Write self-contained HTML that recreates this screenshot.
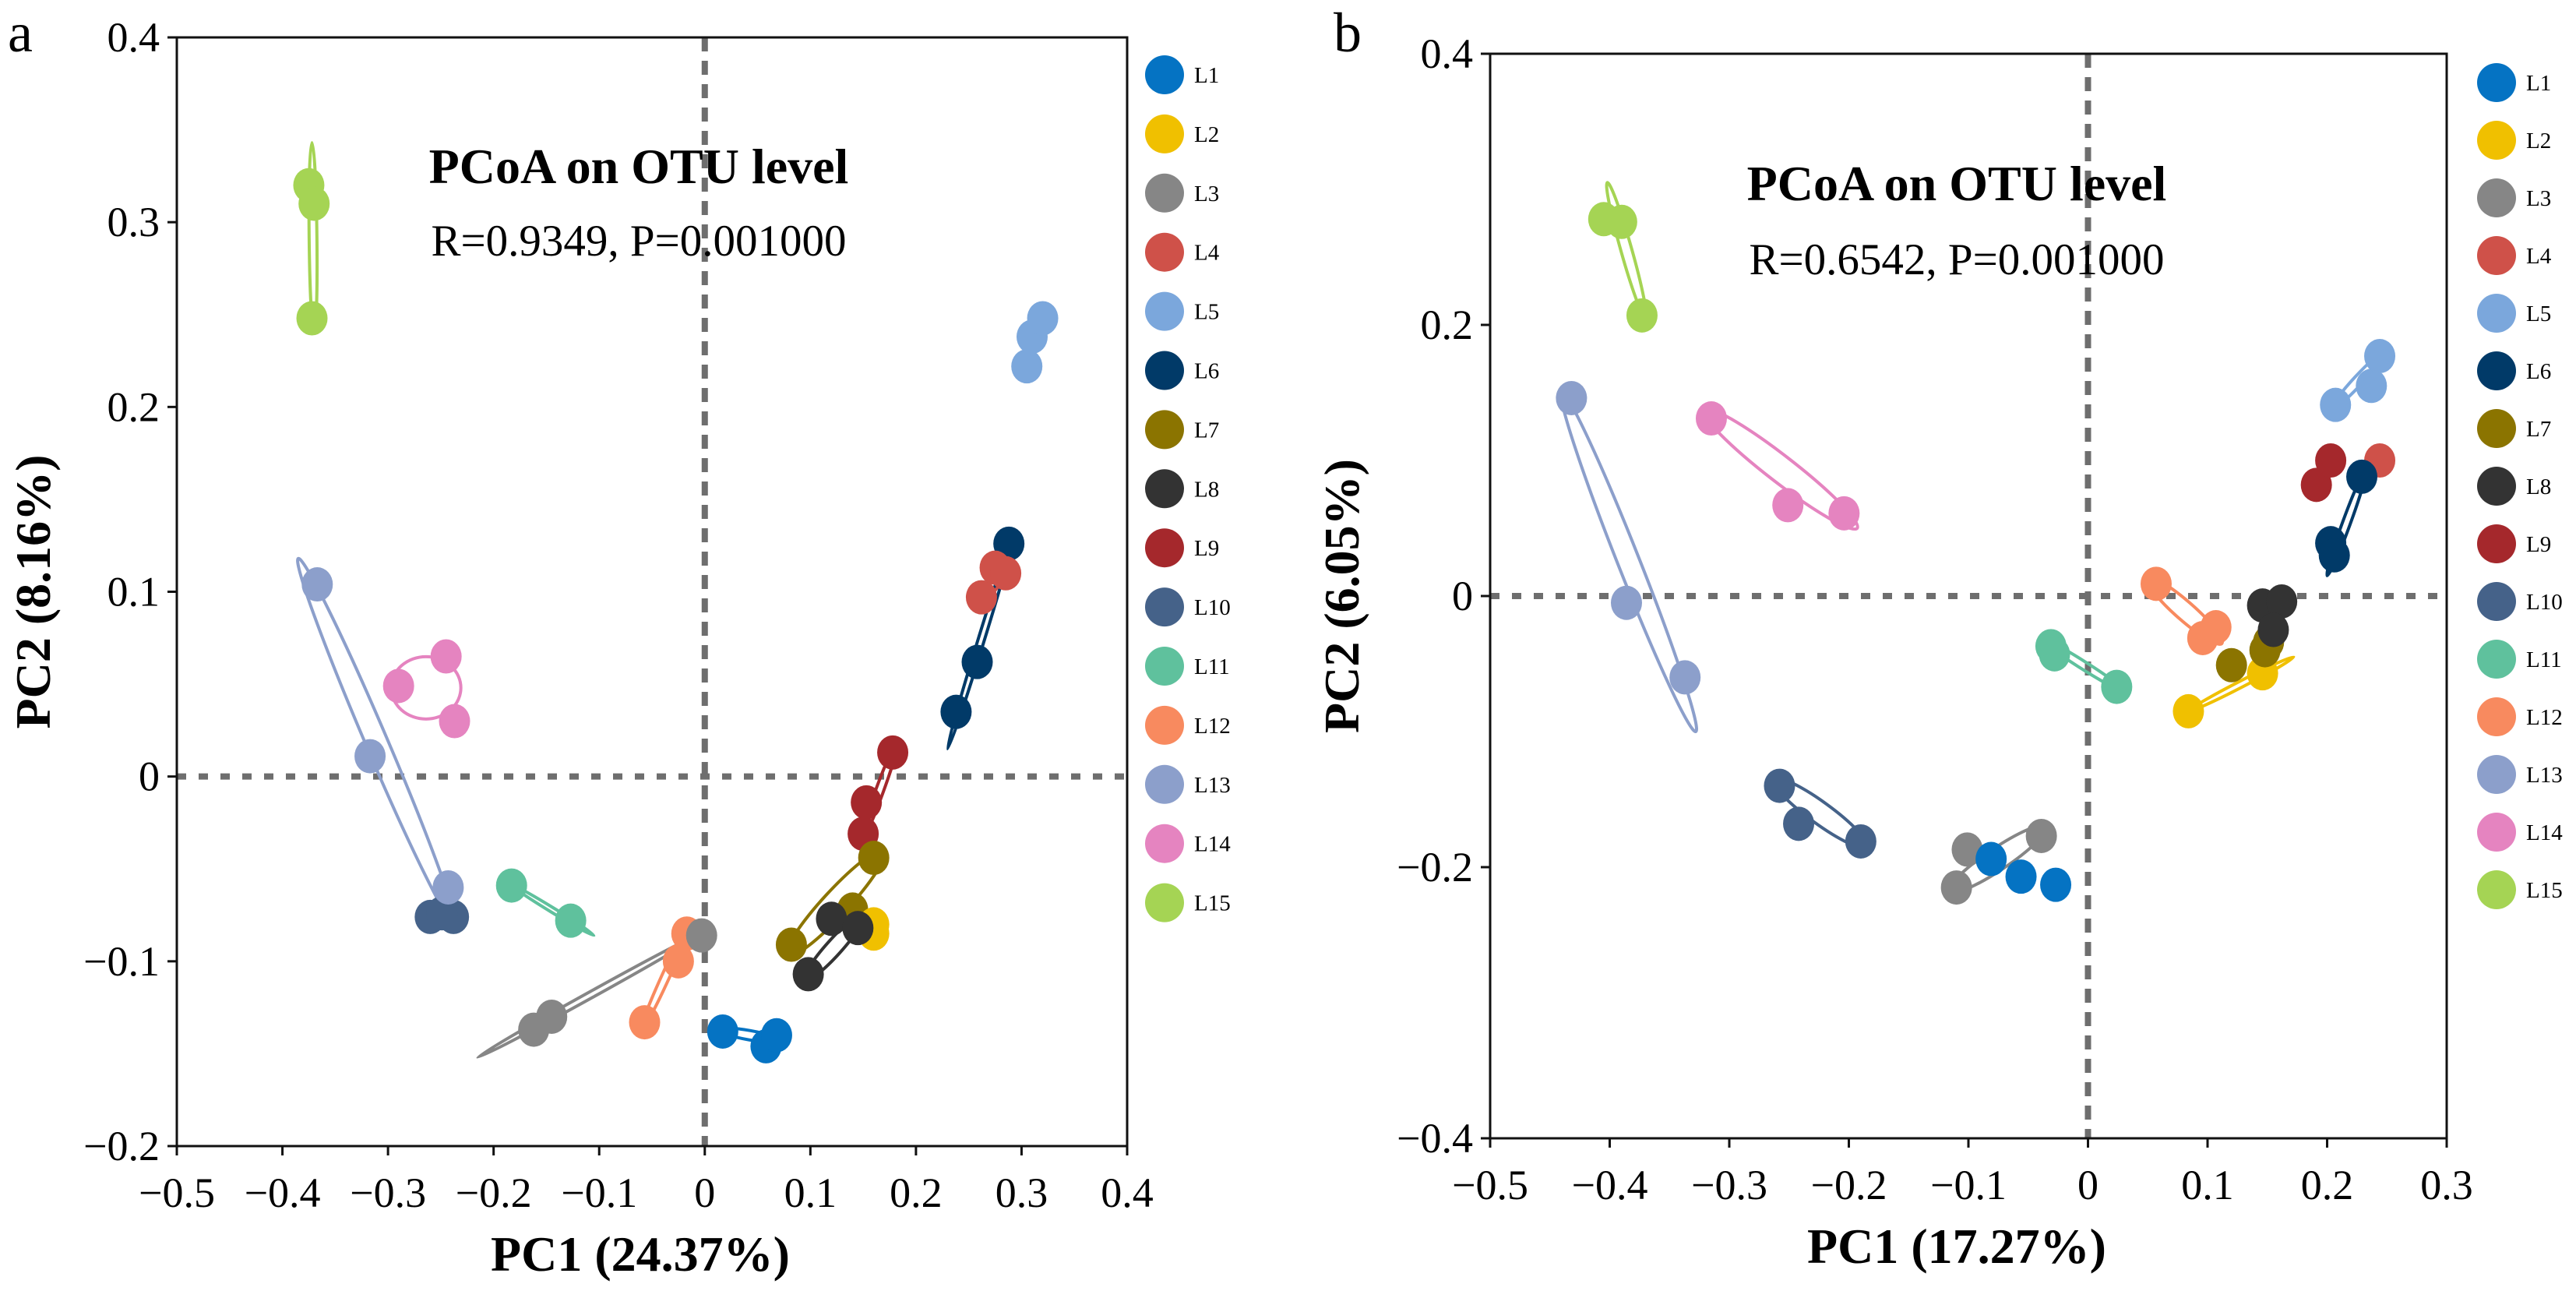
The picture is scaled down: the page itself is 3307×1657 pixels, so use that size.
<!DOCTYPE html>
<html><head><meta charset="utf-8"><style>
html,body{margin:0;padding:0;background:#fff;}
svg{display:block;font-family:"Liberation Serif",serif;}
</style></head><body>
<svg id="s" width="3307" height="1657" xmlns="http://www.w3.org/2000/svg"></svg>
<script>
const C={L1:"#0573c3",L2:"#f0c000",L3:"#868686",L4:"#cf5149",L5:"#7ba7dc",L6:"#013a68",L7:"#8b7400",L8:"#333333",L9:"#a5282c",L10:"#456289",L11:"#5fc19d",L12:"#f88a5f",L13:"#8c9fcb",L14:"#e584c0",L15:"#a5d454"};
const A={L:227,R:1447,T:48,B:1471,x0:-0.5,x1:0.4,y0:-0.2,y1:0.4,xt:[-0.5,-0.4,-0.3,-0.2,-0.1,0,0.1,0.2,0.3,0.4],yt:[-0.2,-0.1,0,0.1,0.2,0.3,0.4],
legX:1495,legY:96,legS:75.9,
title:[820,235],rt:[820,328],r:"R=0.9349, P=0.001000",xl:"PC1 (24.37%)",yl:"PC2 (8.16%)",ylx:42,letter:["a",10,66],
pts:{L15:[[-0.375,0.32],[-0.37,0.31],[-0.372,0.248]],L5:[[0.305,0.222],[0.31,0.238],[0.32,0.248]],L6:[[0.288,0.126],[0.258,0.062],[0.238,0.035]],L4:[[0.262,0.097],[0.275,0.113],[0.285,0.11]],L9:[[0.178,0.013],[0.153,-0.014],[0.15,-0.031]],L7:[[0.16,-0.044],[0.14,-0.072],[0.082,-0.091]],L2:[[0.16,-0.08],[0.16,-0.085]],L8:[[0.12,-0.077],[0.145,-0.082],[0.098,-0.107]],L1:[[0.017,-0.138],[0.058,-0.146],[0.068,-0.14]],L12:[[-0.017,-0.085],[-0.025,-0.1],[-0.057,-0.133]],L3:[[-0.162,-0.137],[-0.145,-0.13],[-0.003,-0.086]],L11:[[-0.183,-0.059],[-0.127,-0.078]],L10:[[-0.26,-0.076],[-0.238,-0.076],[-0.249,-0.074]],L13:[[-0.367,0.104],[-0.317,0.011],[-0.243,-0.06]],L14:[[-0.29,0.049],[-0.245,0.065],[-0.237,0.03]]},
ell:{L15:[-0.372,0.343,-0.37,0.24,5],L13:[-0.385,0.118,-0.237,-0.08,14],L14:[-0.297,0.048,-0.231,0.048,40],L3:[-0.215,-0.152,0.0,-0.084,4],L11:[-0.185,-0.058,-0.105,-0.086,3],L7:[0.078,-0.097,0.17,-0.04,16],L8:[0.095,-0.11,0.15,-0.075,10],L9:[0.148,-0.035,0.182,0.018,5],L6:[0.23,0.015,0.292,0.13,4],L4:[0.258,0.093,0.29,0.115,6],L12:[-0.06,-0.137,-0.013,-0.078,5],L1:[0.013,-0.137,0.072,-0.143,6]}};
const B={L:1913,R:3141,T:69,B:1461,x0:-0.5,x1:0.3,y0:-0.4,y1:0.4,xt:[-0.5,-0.4,-0.3,-0.2,-0.1,0,0.1,0.2,0.3],yt:[-0.4,-0.2,0,0.2,0.4],
legX:3205,legY:106,legS:74,
title:[2512,257],rt:[2512,352],r:"R=0.6542, P=0.001000",xl:"PC1 (17.27%)",yl:"PC2 (6.05%)",ylx:1722,letter:["b",1712,66],
pts:{L15:[[-0.405,0.278],[-0.39,0.276],[-0.373,0.207]],L13:[[-0.432,0.146],[-0.386,-0.005],[-0.337,-0.06]],L14:[[-0.315,0.131],[-0.251,0.067],[-0.204,0.061]],L10:[[-0.258,-0.14],[-0.242,-0.168],[-0.19,-0.181]],L3:[[-0.101,-0.187],[-0.11,-0.215],[-0.039,-0.177]],L1:[[-0.081,-0.194],[-0.056,-0.207],[-0.027,-0.213]],L11:[[-0.031,-0.037],[-0.028,-0.043],[0.024,-0.067]],L12:[[0.057,0.009],[0.096,-0.031],[0.107,-0.023]],L2:[[0.084,-0.085],[0.146,-0.057]],L7:[[0.12,-0.051],[0.148,-0.04],[0.151,-0.034]],L8:[[0.146,-0.007],[0.162,-0.004],[0.155,-0.025]],L9:[[0.191,0.082],[0.203,0.1]],L4:[[0.244,0.1]],L6:[[0.229,0.088],[0.203,0.039],[0.206,0.03]],L5:[[0.207,0.141],[0.237,0.155],[0.244,0.177]]},
ell:{L15:[-0.402,0.305,-0.37,0.205,7],L13:[-0.44,0.15,-0.328,-0.1,14],L14:[-0.322,0.138,-0.193,0.05,17],L10:[-0.263,-0.135,-0.185,-0.185,14],L3:[-0.116,-0.218,-0.035,-0.17,14],L11:[-0.038,-0.032,0.03,-0.07,5],L12:[0.05,0.013,0.112,-0.035,12],L2:[0.084,-0.085,0.172,-0.045,4],L6:[0.2,0.015,0.232,0.092,5],L5:[0.204,0.138,0.248,0.18,6]}};
const s=document.getElementById('s');let h='';
const f=v=>v<0?'\u2212'+(-v):''+v;
function draw(P){
 const sx=v=>P.L+(v-P.x0)/(P.x1-P.x0)*(P.R-P.L), sy=v=>P.B-(v-P.y0)/(P.y1-P.y0)*(P.B-P.T);
 h+=`<line x1="${P.L}" y1="${sy(0)}" x2="${P.R}" y2="${sy(0)}" stroke="#6e6e6e" stroke-width="8" stroke-dasharray="12 16"/>`;
 h+=`<line x1="${sx(0)}" y1="${P.T}" x2="${sx(0)}" y2="${P.B}" stroke="#6e6e6e" stroke-width="8" stroke-dasharray="18 12"/>`;
 for(const k in P.ell){const [x1,y1,x2,y2,w]=P.ell[k];const a1=sx(x1),b1=sy(y1),a2=sx(x2),b2=sy(y2);
  const cx=(a1+a2)/2,cy=(b1+b2)/2,ra=Math.hypot(a2-a1,b2-b1)/2,deg=Math.atan2(b2-b1,a2-a1)*180/Math.PI;
  h+=`<ellipse cx="${cx}" cy="${cy}" rx="${ra}" ry="${w}" transform="rotate(${deg} ${cx} ${cy})" fill="none" stroke="${C[k]}" stroke-width="4"/>`;}
 for(const k in P.pts){for(const q of P.pts[k])h+=`<ellipse cx="${sx(q[0])}" cy="${sy(q[1])}" rx="20" ry="22" fill="${C[k]}"/>`;}
 h+=`<rect x="${P.L}" y="${P.T}" width="${P.R-P.L}" height="${P.B-P.T}" fill="none" stroke="#111" stroke-width="3"/>`;
 for(const v of P.xt){const x=sx(v);h+=`<line x1="${x}" y1="${P.B}" x2="${x}" y2="${P.B+12}" stroke="#111" stroke-width="3"/><text x="${x}" y="${P.B+78}" font-size="54" text-anchor="middle">${f(v)}</text>`;}
 for(const v of P.yt){const y=sy(v);h+=`<line x1="${P.L-12}" y1="${y}" x2="${P.L}" y2="${y}" stroke="#111" stroke-width="3"/><text x="${P.L-22}" y="${y+18}" font-size="54" text-anchor="end">${f(v)}</text>`;}
 const mx=(P.L+P.R)/2,my=(P.T+P.B)/2;
 h+=`<text x="${mx-15}" y="${P.B+160}" font-size="64" font-weight="bold" text-anchor="middle">${P.xl}</text>`;
 h+=`<text transform="translate(${P.ylx+22} ${my}) rotate(-90)" font-size="64" font-weight="bold" text-anchor="middle">${P.yl}</text>`;
 h+=`<text x="${P.title[0]}" y="${P.title[1]}" font-size="64" font-weight="bold" text-anchor="middle">PCoA on OTU level</text>`;
 h+=`<text x="${P.rt[0]}" y="${P.rt[1]}" font-size="57" text-anchor="middle">${P.r}</text>`;
 h+=`<text x="${P.letter[1]}" y="${P.letter[2]}" font-size="72">${P.letter[0]}</text>`;
 let i=0;for(const k in C){const y=P.legY+i*P.legS;h+=`<circle cx="${P.legX}" cy="${y}" r="25" fill="${C[k]}"/><text x="${P.legX+38}" y="${y+10}" font-size="29">${k}</text>`;i++;}
}
draw(A);draw(B);s.innerHTML=h;
</script>
</body></html>
